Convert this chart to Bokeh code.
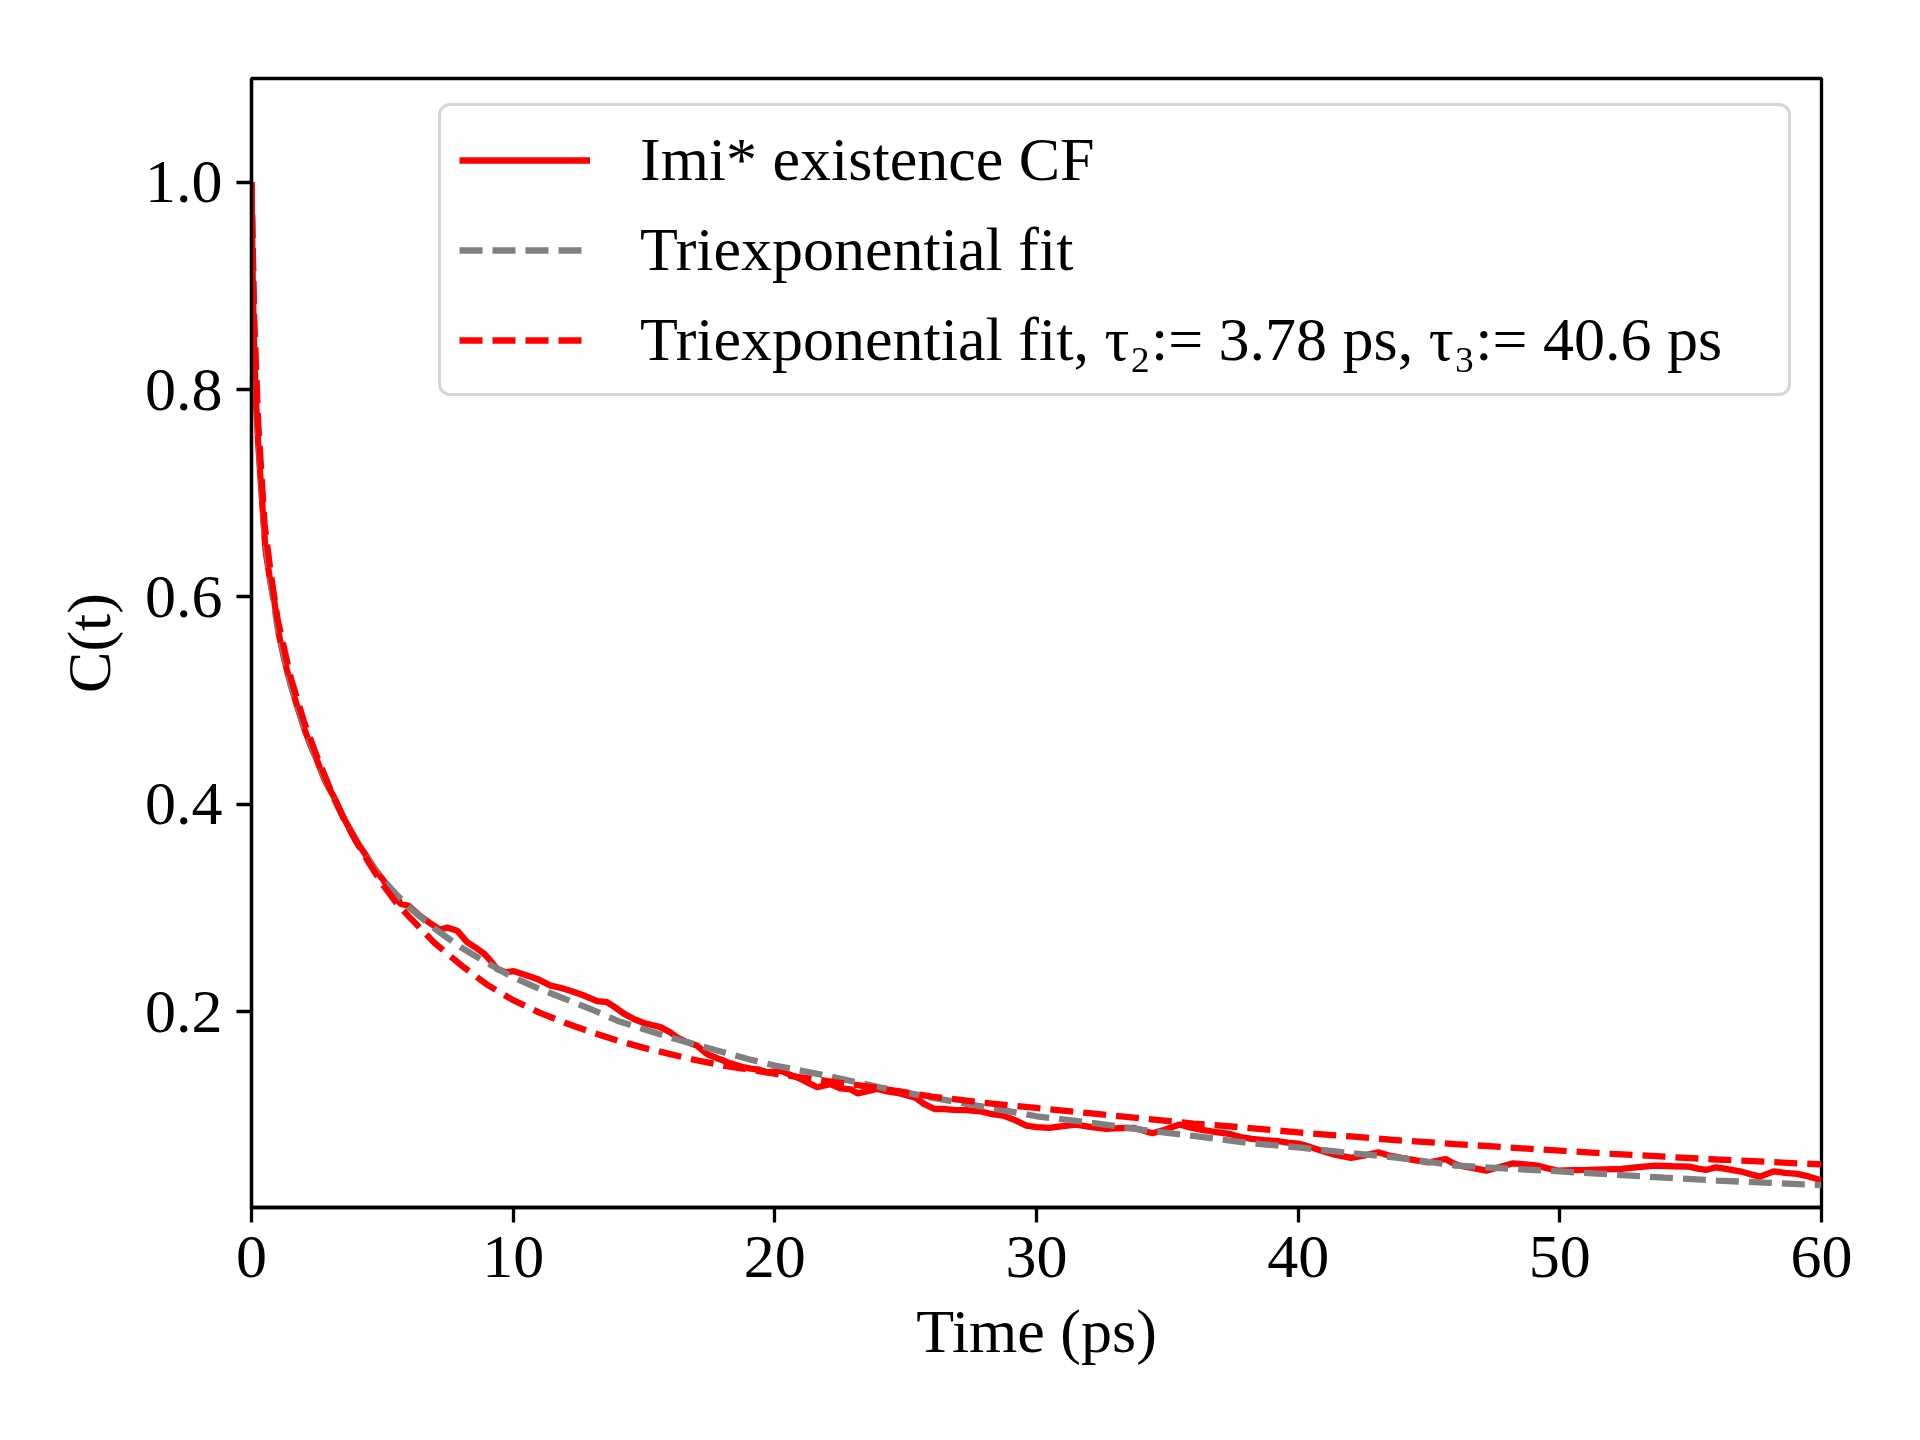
from bokeh.plotting import figure
from bokeh.models import Range1d, FixedTicker, NumeralTickFormatter, Legend, LegendItem
from bokeh.embed import file_html
from bokeh.resources import INLINE

# ---- data ----
cf_t = [0.0, 0.05, 0.1, 0.15, 0.25, 0.34, 0.45, 0.535, 0.73, 0.85, 1.04, 1.25, 1.49, 1.75,
        2.0, 2.25, 2.51, 2.8, 3.15, 3.45, 3.78, 4.1, 4.42, 4.75, 5.06, 5.3, 5.57, 5.69, 6.01,
        6.4, 6.84, 7.2, 7.48, 7.86, 8.24, 8.55, 8.88, 9.1, 9.39, 9.7, 10.02, 10.5, 10.92,
        11.43, 11.8, 12.19, 12.7, 13.21, 13.59, 13.9, 14.23, 14.6, 14.99, 15.3, 15.63, 16.0,
        16.27, 16.6, 17.03, 17.41, 17.9, 18.3, 18.7, 19.07, 19.4, 19.71, 20.21, 20.6, 20.98,
        21.3, 21.62, 22.12, 22.5, 22.89, 23.17, 23.5, 23.9, 24.3, 24.78, 25.37, 25.7, 26.1,
        26.5, 26.83, 27.3, 27.85, 28.3, 28.73, 29.2, 29.61, 30.0, 30.49, 31.0, 31.51, 32.1,
        32.68, 33.2, 33.7, 34.1, 34.43, 34.9, 35.46, 35.9, 36.33, 36.8, 37.36, 37.8, 38.23,
        38.7, 39.26, 39.6, 40.08, 40.5, 40.86, 41.4, 42.02, 42.5, 43.06, 43.5, 43.96, 44.5,
        44.99, 45.3, 45.64, 45.9, 46.16, 46.7, 47.19, 47.7, 48.22, 48.7, 49.13, 49.5, 49.9,
        50.5, 51.06, 51.7, 52.36, 53.0, 53.65, 54.3, 54.94, 55.28, 55.58, 55.97, 56.4, 56.88,
        57.3, 57.65, 58.17, 58.6, 59.07, 59.5, 60.0]
cf_v = [1.0, 0.90, 0.84, 0.80, 0.75, 0.716, 0.675, 0.645, 0.613, 0.60, 0.5645, 0.54, 0.516,
        0.494, 0.474, 0.457, 0.442, 0.423, 0.407, 0.390, 0.375, 0.361, 0.349, 0.336, 0.326,
        0.316, 0.310, 0.304, 0.302, 0.293, 0.285, 0.279, 0.281, 0.278, 0.267, 0.262, 0.256,
        0.250, 0.241, 0.238, 0.239, 0.235, 0.2315, 0.225, 0.223, 0.220, 0.2155, 0.210, 0.209,
        0.204, 0.198, 0.193, 0.189, 0.187, 0.185, 0.180, 0.175, 0.171, 0.167, 0.159, 0.154,
        0.150, 0.147, 0.145, 0.144, 0.1414, 0.143, 0.139, 0.135, 0.131, 0.127, 0.130, 0.126,
        0.125, 0.121, 0.123, 0.1254, 0.123, 0.121, 0.117, 0.111, 0.106, 0.106, 0.1051, 0.105,
        0.1038, 0.101, 0.0997, 0.095, 0.090, 0.0885, 0.0878, 0.0895, 0.0910, 0.0885, 0.0868,
        0.0875, 0.0878, 0.085, 0.0826, 0.086, 0.0910, 0.088, 0.0858, 0.084, 0.0820, 0.079,
        0.0772, 0.076, 0.0749, 0.0735, 0.0723, 0.069, 0.0659, 0.062, 0.0588, 0.061, 0.0642,
        0.061, 0.0588, 0.0565, 0.0546, 0.056, 0.0578, 0.054, 0.0514, 0.049, 0.0466, 0.050,
        0.0536, 0.0525, 0.0514, 0.049, 0.0466, 0.047, 0.0472, 0.0478, 0.0482, 0.050, 0.0514,
        0.0508, 0.0504, 0.0485, 0.0472, 0.0498, 0.048, 0.0459, 0.043, 0.0408, 0.0459, 0.0445,
        0.0434, 0.041, 0.0372]

fit_t = [0.0, 0.1, 0.25, 0.5, 0.75, 1.0, 1.5, 2.0, 2.5, 3.0, 3.5, 4.0, 4.5, 5.0, 5.5, 6.0,
         7.0, 8.0, 9.0, 10.0, 11.0, 12.0, 13.0, 14.0, 15.0, 16.0, 17.0, 18.0, 19.0, 20.0,
         22.0, 24.0, 26.0, 28.0, 30.0, 32.0, 34.0, 36.0, 38.0, 40.0, 42.0, 44.0, 46.0, 48.0,
         50.0, 52.0, 54.0, 56.0, 58.0, 60.0]
fit_v = [1.0, 0.86, 0.76, 0.66, 0.61, 0.57, 0.515, 0.475, 0.443, 0.413, 0.387, 0.364, 0.345,
         0.328, 0.314, 0.301, 0.280, 0.262, 0.247, 0.233, 0.222, 0.212, 0.202, 0.191, 0.183,
         0.175, 0.168, 0.161, 0.154, 0.148, 0.138, 0.127, 0.117, 0.108, 0.099, 0.093, 0.0862,
         0.0800, 0.0735, 0.069, 0.0635, 0.0585, 0.0515, 0.0485, 0.0458, 0.0428, 0.0398,
         0.037, 0.0348, 0.0325]

fixed_t = [0.0, 0.1, 0.25, 0.5, 0.75, 1.0, 1.5, 2.0, 2.5, 3.0, 3.5, 4.0, 4.5, 5.0, 5.5, 6.0,
           7.0, 8.0, 9.0, 10.0, 11.0, 12.0, 13.0, 14.0, 15.0, 16.0, 17.0, 18.0, 20.0, 22.0,
           24.0, 26.0, 28.0, 30.0, 32.0, 34.0, 36.0, 38.0, 40.0, 42.0, 44.0, 46.0, 48.0, 50.0,
           52.0, 54.0, 56.0, 58.0, 60.0]
fixed_v = [1.0, 0.87, 0.77, 0.67, 0.62, 0.578, 0.522, 0.48, 0.446, 0.415, 0.388, 0.364,
           0.343, 0.323, 0.306, 0.292, 0.266, 0.245, 0.226, 0.211, 0.199, 0.189, 0.180, 0.172,
           0.165, 0.159, 0.153, 0.148, 0.140, 0.133, 0.126, 0.118, 0.112, 0.107, 0.102, 0.097,
           0.092, 0.088, 0.0835, 0.0795, 0.0755, 0.0722, 0.069, 0.0658, 0.0628, 0.0600, 0.0573,
           0.055, 0.0525]

x_ticks = [0, 10, 20, 30, 40, 50, 60]
y_ticks = [0.2, 0.4, 0.6, 0.8, 1.0]

labels = ["Imi* existence CF", "Triexponential fit",
          "Triexponential fit, \u03c4\u2082:= 3.78 ps, \u03c4\u2083:= 40.6 ps"]

FONT = "Liberation Serif"
FS = "62px"

p = figure(frame_width=1570, frame_height=1129,
           min_border_left=251, min_border_right=91, min_border_top=78, min_border_bottom=217,
           output_backend="svg", toolbar_location=None,
           x_range=Range1d(0, 60), y_range=Range1d(0.011, 1.1))
p.background_fill_color = "white"
p.border_fill_color = "white"
p.grid.visible = False
p.outline_line_color = "black"
p.outline_line_width = 3.3

r1 = p.line(cf_t, cf_v, line_color="#ff0000", line_width=6.3)
r2 = p.line(fit_t, fit_v, line_color="#808080", line_width=6.3, line_dash="23 10")
r3 = p.line(fixed_t, fixed_v, line_color="#ff0000", line_width=6.3, line_dash="23 10")

for ax in (p.xaxis[0], p.yaxis[0]):
    ax.axis_line_color = "black"
    ax.axis_line_width = 3.3
    ax.major_tick_line_color = "black"
    ax.major_tick_line_width = 3.3
    ax.major_tick_out = 15
    ax.major_tick_in = 0
    ax.minor_tick_line_color = None
    ax.major_label_text_font = FONT
    ax.major_label_text_font_size = FS
    ax.major_label_text_color = "black"
    ax.axis_label_text_font = FONT
    ax.axis_label_text_font_size = FS
    ax.axis_label_text_font_style = "normal"
    ax.axis_label_text_color = "black"

p.xaxis.ticker = FixedTicker(ticks=x_ticks)
p.yaxis.ticker = FixedTicker(ticks=y_ticks)
p.xaxis.formatter = NumeralTickFormatter(format="0")
p.yaxis.formatter = NumeralTickFormatter(format="0.0")
p.xaxis.axis_label = "Time (ps)"
p.yaxis.axis_label = "C(t)"
p.xaxis.major_label_standoff = 14
p.yaxis.major_label_standoff = 14
p.xaxis.axis_label_standoff = 17
p.yaxis.axis_label_standoff = 19

legend = Legend(items=[LegendItem(label=labels[0], renderers=[r1]),
                       LegendItem(label=labels[1], renderers=[r2]),
                       LegendItem(label=labels[2], renderers=[r3])],
                location=(187, 811))
legend.label_text_font = FONT
legend.label_text_font_size = FS
legend.label_text_color = "black"
legend.label_text_baseline = "middle"
legend.glyph_width = 131
legend.glyph_height = 62
legend.label_height = 62
legend.label_width = 1130
legend.label_standoff = 50
legend.spacing = 19
legend.padding = 18
legend.margin = 0
legend.border_line_color = "#cccccc"
legend.border_line_width = 3.5
legend.border_line_alpha = 0.8
legend.background_fill_color = "white"
legend.background_fill_alpha = 0.8
if "border_radius" in Legend.properties():
    legend.border_radius = 12
p.add_layout(legend)

open("out.html", "w").write(file_html(p, INLINE))
